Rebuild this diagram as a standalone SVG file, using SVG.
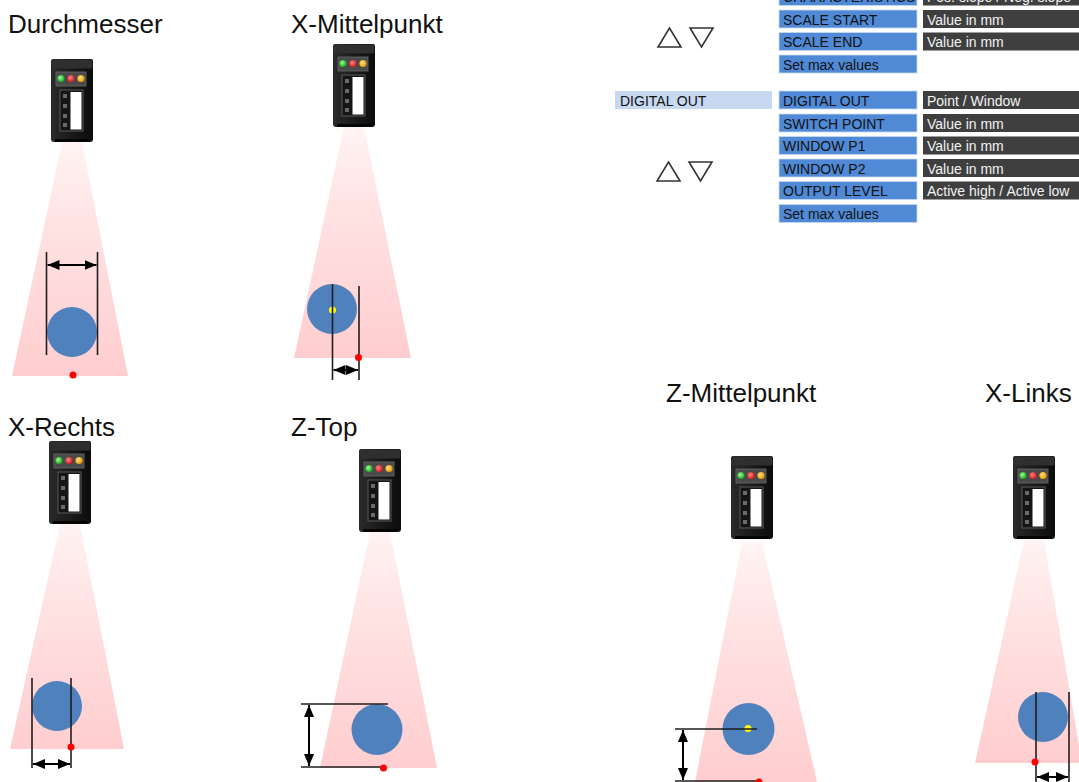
<svg xmlns="http://www.w3.org/2000/svg" width="1079" height="782" viewBox="0 0 1079 782">
  <style>
    .title { font-family: "Liberation Sans", Arial, sans-serif; font-size: 26px; fill: #111; }
    .cell { font-family: "Liberation Sans", Arial, sans-serif; font-size: 14px; }
    .blue { fill: #508ad6; stroke: #c9d9ef; stroke-width: 0.8; }
    .blue-t { fill: #111111; }
    .dark { fill: #3f3f3f; }
    .dark-t { fill: #f2f2f2; }
    .light { fill: #c6d9f1; }
    .tri { fill: none; stroke: #333; stroke-width: 1.6; stroke-linejoin: miter; }
    .beam { fill: url(#beamGrad); }
    .obj { fill: #4f81bd; }
    .edge { stroke: #1e1e1e; stroke-width: 1.6; fill: none; }
    .dim { stroke: #000; stroke-width: 2; fill: none; marker-start: url(#ah); marker-end: url(#ah); }
    .hit { fill: #ff0000; }
    .mid { fill: #ffff00; }
  </style>
  <defs>
    <linearGradient id="beamGrad" x1="0" y1="0" x2="0" y2="1">
      <stop offset="0" stop-color="#fff3f3"/>
      <stop offset="0.35" stop-color="#ffe3e3"/>
      <stop offset="1" stop-color="#ffcdcf"/>
    </linearGradient>
    <linearGradient id="bodyGrad" x1="0" y1="0" x2="1" y2="0">
      <stop offset="0" stop-color="#2a2a2a"/>
      <stop offset="0.5" stop-color="#1a1a1a"/>
      <stop offset="1" stop-color="#0c0c0c"/>
    </linearGradient>
    <radialGradient id="ledG" cx="0.4" cy="0.4" r="0.6">
      <stop offset="0" stop-color="#9cff9c"/>
      <stop offset="1" stop-color="#18a818"/>
    </radialGradient>
    <radialGradient id="ledR" cx="0.4" cy="0.4" r="0.6">
      <stop offset="0" stop-color="#ff8a8a"/>
      <stop offset="1" stop-color="#d81818"/>
    </radialGradient>
    <radialGradient id="ledO" cx="0.4" cy="0.4" r="0.6">
      <stop offset="0" stop-color="#ffe08a"/>
      <stop offset="1" stop-color="#e89a00"/>
    </radialGradient>
    <marker id="ah" viewBox="0 0 12 10" refX="12" refY="5" markerWidth="12" markerHeight="10" markerUnits="userSpaceOnUse" orient="auto-start-reverse">
      <path d="M0,0 L12,5 L0,10 Z" fill="#000"/>
    </marker>
    <!-- sensor housing, 42 x 83 -->
    <g id="sensor">
      <path d="M2,0 H40 Q42,0 42,2 V80 Q42,83 39,83 H3 Q0,83 0,80 V2 Q0,0 2,0 Z" fill="url(#bodyGrad)"/>
      <rect x="0.5" y="0.5" width="41" height="9" rx="1.5" fill="#2f2f2f"/>
      <rect x="5" y="13" width="30" height="14" fill="#4a4a4a" stroke="#6a6a6a" stroke-width="0.8"/>
      <circle cx="10" cy="19.5" r="3.6" fill="url(#ledG)"/>
      <circle cx="20" cy="19.5" r="3.6" fill="url(#ledR)"/>
      <circle cx="30" cy="19.5" r="3.6" fill="url(#ledO)"/>
      <rect x="9" y="31" width="23" height="41" fill="#151515" stroke="#5a5a5a" stroke-width="1"/>
      <rect x="19.5" y="33" width="11" height="37.5" fill="#ffffff"/>
      <g fill="#6a6a6a">
        <rect x="12" y="35" width="4" height="4"/>
        <rect x="12" y="45" width="4" height="4"/>
        <rect x="12" y="55" width="4" height="4"/>
        <rect x="12" y="64" width="4" height="4"/>
      </g>
      <rect x="4" y="80" width="34" height="3" fill="#050505"/>
    </g>
  </defs>

  <rect width="1079" height="782" fill="#ffffff"/>

  <!-- menu tables -->
  <g id="menu-analog">
    <rect class="blue" x="779" y="-12.5" width="138" height="18"/>
    <text class="cell blue-t" x="783" y="1.5">CHARACTERISTICS</text>
    <rect class="dark" x="923" y="-12.5" width="160" height="18"/>
    <text class="cell dark-t" x="927" y="1.5">Pos. slope / Neg. slope</text>

    <rect class="blue" x="779" y="10" width="138" height="18"/>
    <text class="cell blue-t" x="783" y="24.5">SCALE START</text>
    <rect class="dark" x="923" y="10" width="160" height="18"/>
    <text class="cell dark-t" x="927" y="24.5">Value in mm</text>

    <rect class="blue" x="779" y="32.5" width="138" height="18"/>
    <text class="cell blue-t" x="783" y="47">SCALE END</text>
    <rect class="dark" x="923" y="32.5" width="160" height="18"/>
    <text class="cell dark-t" x="927" y="47">Value in mm</text>

    <rect class="blue" x="779" y="55" width="138" height="18"/>
    <text class="cell blue-t" x="783" y="69.5">Set max values</text>

    <path class="tri" d="M658,47 L681,47 L669.5,28 Z"/>
    <path class="tri" d="M690,28 L713,28 L701.5,47 Z"/>
  </g>

  <g id="menu-digital">
    <rect class="light" x="615" y="91" width="157" height="18"/>
    <text class="cell blue-t" x="620" y="105.5">DIGITAL OUT</text>

    <rect class="blue" x="779" y="91" width="138" height="18"/>
    <text class="cell blue-t" x="783" y="105.5">DIGITAL OUT</text>
    <rect class="dark" x="923" y="91" width="160" height="18"/>
    <text class="cell dark-t" x="927" y="105.5">Point / Window</text>

    <rect class="blue" x="779" y="114" width="138" height="18"/>
    <text class="cell blue-t" x="783" y="128.5">SWITCH POINT</text>
    <rect class="dark" x="923" y="114" width="160" height="18"/>
    <text class="cell dark-t" x="927" y="128.5">Value in mm</text>

    <rect class="blue" x="779" y="136.5" width="138" height="18"/>
    <text class="cell blue-t" x="783" y="151">WINDOW P1</text>
    <rect class="dark" x="923" y="136.5" width="160" height="18"/>
    <text class="cell dark-t" x="927" y="151">Value in mm</text>

    <rect class="blue" x="779" y="159" width="138" height="18"/>
    <text class="cell blue-t" x="783" y="173.5">WINDOW P2</text>
    <rect class="dark" x="923" y="159" width="160" height="18"/>
    <text class="cell dark-t" x="927" y="173.5">Value in mm</text>

    <rect class="blue" x="779" y="181.5" width="138" height="18"/>
    <text class="cell blue-t" x="783" y="196">OUTPUT LEVEL</text>
    <rect class="dark" x="923" y="181.5" width="160" height="18"/>
    <text class="cell dark-t" x="927" y="196">Active high / Active low</text>

    <rect class="blue" x="779" y="204.5" width="138" height="18"/>
    <text class="cell blue-t" x="783" y="219">Set max values</text>

    <path class="tri" d="M657,181 L680,181 L668.5,162 Z"/>
    <path class="tri" d="M689,162 L712,162 L700.5,181 Z"/>
  </g>

  <!-- Durchmesser -->
  <g id="mode-durchmesser">
    <text class="title" x="8" y="33">Durchmesser</text>
    <polygon class="beam" points="62,142 82,142 128,376 12,376"/>
    <use href="#sensor" x="51" y="59"/>
    <circle class="obj" cx="72" cy="332" r="25"/>
    <line class="edge" x1="46.5" y1="252" x2="46.5" y2="355"/>
    <line class="edge" x1="97.5" y1="252" x2="97.5" y2="355"/>
    <circle class="hit" cx="73" cy="375" r="3.5"/>
  </g>

  <!-- X-Mittelpunkt -->
  <g id="mode-x-mitte">
    <text class="title" x="291" y="33">X-Mittelpunkt</text>
    <polygon class="beam" points="344,127 364,127 411,358 294,358"/>
    <use href="#sensor" x="333" y="44"/>
    <circle class="obj" cx="332" cy="309" r="25"/>
    <circle class="mid" cx="332.5" cy="310" r="3.5"/>
    <line class="edge" x1="332.5" y1="284" x2="332.5" y2="380"/>
    <line class="edge" x1="359" y1="286" x2="359" y2="380"/>
    <circle class="hit" cx="358.5" cy="357.5" r="3.5"/>
  </g>

  <!-- X-Rechts -->
  <g id="mode-x-rechts">
    <text class="title" x="8" y="436">X-Rechts</text>
    <polygon class="beam" points="60,524 80,524 124,749 10,749"/>
    <use href="#sensor" x="49" y="441"/>
    <circle class="obj" cx="57" cy="706" r="25"/>
    <line class="edge" x1="32" y1="678" x2="32" y2="768"/>
    <line class="edge" x1="71" y1="678" x2="71" y2="768"/>
    <circle class="hit" cx="71" cy="747" r="3.5"/>
  </g>

  <!-- Z-Top -->
  <g id="mode-z-top">
    <text class="title" x="291" y="436">Z-Top</text>
    <polygon class="beam" points="370,532 390,532 437,768 320,768"/>
    <use href="#sensor" x="359" y="449"/>
    <circle class="obj" cx="377" cy="729.5" r="25.5"/>
    <line class="edge" x1="301" y1="704" x2="388" y2="704"/>
    <line class="edge" x1="301" y1="767" x2="383" y2="767"/>
    <circle class="hit" cx="383.5" cy="768" r="3.5"/>
  </g>

  <!-- Z-Mittelpunkt -->
  <g id="mode-z-mitte">
    <text class="title" x="666" y="402">Z-Mittelpunkt</text>
    <polygon class="beam" points="742,542 762,542 817,782 695,782"/>
    <use href="#sensor" x="731" y="456"/>
    <circle class="obj" cx="748.5" cy="729" r="26"/>
    <circle class="mid" cx="748" cy="728.5" r="3.5"/>
    <line class="edge" x1="675" y1="729" x2="757" y2="729"/>
    <line class="edge" x1="675" y1="781" x2="760" y2="781"/>
    <circle class="hit" cx="759" cy="782" r="3.5"/>
  </g>

  <!-- X-Links -->
  <g id="mode-x-links">
    <text class="title" x="985" y="402">X-Links</text>
    <polygon class="beam" points="1024,540 1044,540 1082,763 975,763"/>
    <use href="#sensor" x="1013" y="456"/>
    <circle class="obj" cx="1043" cy="717" r="25"/>
    <line class="edge" x1="1036" y1="692" x2="1036" y2="782"/>
    <line class="edge" x1="1069" y1="692" x2="1069" y2="782"/>
    <circle class="hit" cx="1035" cy="762" r="3.5"/>
  </g>

  <!-- dimension arrows -->
  <g id="connectors">
    <line class="dim" x1="47.5" y1="265" x2="96.5" y2="265"/>
    <line class="dim" x1="333.5" y1="370" x2="358" y2="370"/>
    <line class="dim" x1="33" y1="764" x2="70" y2="764"/>
    <line class="dim" x1="309" y1="705" x2="309" y2="766"/>
    <line class="dim" x1="683" y1="730" x2="683" y2="780"/>
    <line class="dim" x1="1037" y1="777" x2="1068" y2="777"/>
  </g>
</svg>
